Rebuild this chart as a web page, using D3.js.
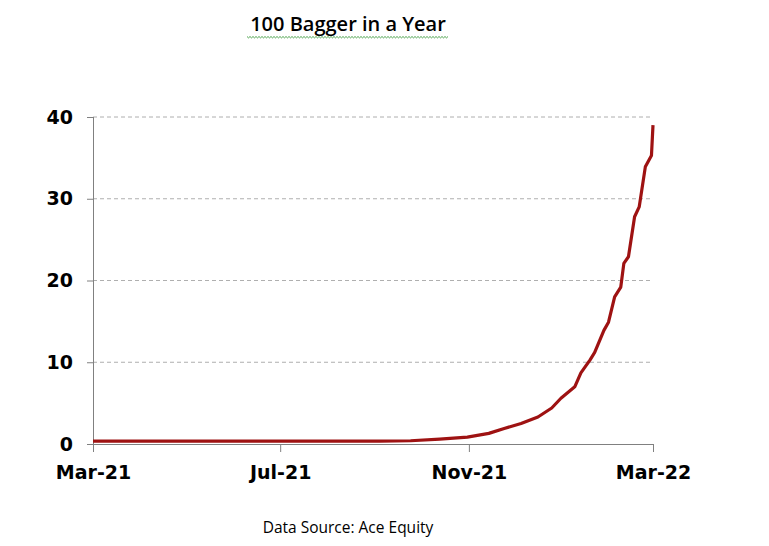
<!DOCTYPE html>
<html>
<head>
<meta charset="utf-8">
<script src="https://cdn.jsdelivr.net/npm/d3@7"></script>
<style>
  body { margin: 0; background: #fff; }
  svg { display: block; }
</style>
</head>
<body>
<svg width="769" height="546"></svg>
<script>
// price (multiple)
var dates = ["2021-03-01", "2021-05-01", "2021-07-01", "2021-09-04", "2021-09-24", "2021-10-13",
  "2021-10-31", "2021-11-14", "2021-11-24", "2021-12-05", "2021-12-16", "2021-12-25", "2021-12-31",
  "2022-01-09", "2022-01-13", "2022-01-19", "2022-01-22", "2022-01-28", "2022-01-31", "2022-02-04",
  "2022-02-08", "2022-02-10", "2022-02-13", "2022-02-17", "2022-02-20", "2022-02-24", "2022-02-28",
  "2022-03-01"];
var values = [0.35, 0.35, 0.35, 0.35, 0.4, 0.6,
  0.85, 1.3, 1.9, 2.5, 3.3, 4.4, 5.6,
  7.0, 8.7, 10.3, 11.2, 13.9, 14.9, 18.0,
  19.2, 22.1, 22.9, 27.8, 29.0, 33.9, 35.3,
  39.0];
var xTicks = ["2021-03-01", "2021-07-01", "2021-11-01", "2022-03-01"];
var yTicks = [0, 10, 20, 30, 40];

var parse = d3.timeParse("%Y-%m-%d");
var fmt = d3.timeFormat("%b-%y");
var data = dates.map(function(d, i) { return { date: parse(d), value: values[i] }; });

var svg = d3.select("svg");
var mLeft = 93, mRight = 653, mTop = 117, mBottom = 444;

var x = d3.scaleTime()
  .domain([parse(xTicks[0]), parse(xTicks[xTicks.length - 1])])
  .range([mLeft, mRight]);
var y = d3.scaleLinear().domain([0, 40]).range([mBottom, mTop]);

// title + spell-check squiggle
svg.append("text")
  .attr("x", 348).attr("y", 31)
  .attr("text-anchor", "middle")
  .style("font-family", "'Open Sans', sans-serif")
  .style("font-weight", 600)
  .style("font-size", "20px")
  .style("fill", "#000")
  .text("100 Bagger in a Year");

var sq = "M247,36.5";
for (var i = 0; i < 134; i++) sq += " l1.5," + (i % 2 ? -1.4 : 1.4);
svg.append("path").attr("d", sq)
  .style("fill", "none").style("stroke", "#3c9a3c").style("stroke-width", 0.9);

// gridlines
svg.append("g").selectAll("line")
  .data(yTicks.slice(1))
  .enter().append("line")
  .attr("x1", mLeft).attr("x2", mRight)
  .attr("y1", function(d) { return y(d); })
  .attr("y2", function(d) { return y(d); })
  .style("stroke", "#9a9a9a")
  .style("stroke-dasharray", "4,3")
  .style("stroke-width", 0.8);

// y axis
var yAxis = svg.append("g")
  .attr("transform", "translate(" + mLeft + ",0)")
  .call(d3.axisLeft(y).tickValues(yTicks).tickSize(6).tickPadding(14));
yAxis.select(".domain").attr("d", "M0.5," + mTop + "V" + (mBottom + 8));

// x axis
var xAxis = svg.append("g")
  .attr("transform", "translate(0," + mBottom + ")")
  .call(d3.axisBottom(x).tickValues(xTicks.map(parse)).tickFormat(fmt).tickSize(8).tickPadding(14));
xAxis.select(".domain").attr("d", "M" + (mLeft - 6) + ",0.5H" + mRight);

svg.selectAll(".domain, .tick line").style("stroke", "#808080").style("stroke-width", 1);
svg.selectAll(".tick text")
  .style("font-family", "'DejaVu Sans', sans-serif")
  .style("font-weight", "bold")
  .style("font-size", "19px")
  .style("fill", "#000");

// line
svg.append("path")
  .datum(data)
  .attr("d", d3.line()
    .x(function(d) { return x(d.date); })
    .y(function(d) { return y(d.value); }))
  .style("fill", "none")
  .style("stroke", "#9e1212")
  .style("stroke-width", 3.2)
  .style("stroke-linejoin", "round");

// source note
svg.append("text")
  .attr("x", 348).attr("y", 533)
  .attr("text-anchor", "middle")
  .style("font-family", "'Open Sans', sans-serif")
  .style("font-size", "15.5px")
  .style("fill", "#000")
  .text("Data Source: Ace Equity");
</script>
</body>
</html>
